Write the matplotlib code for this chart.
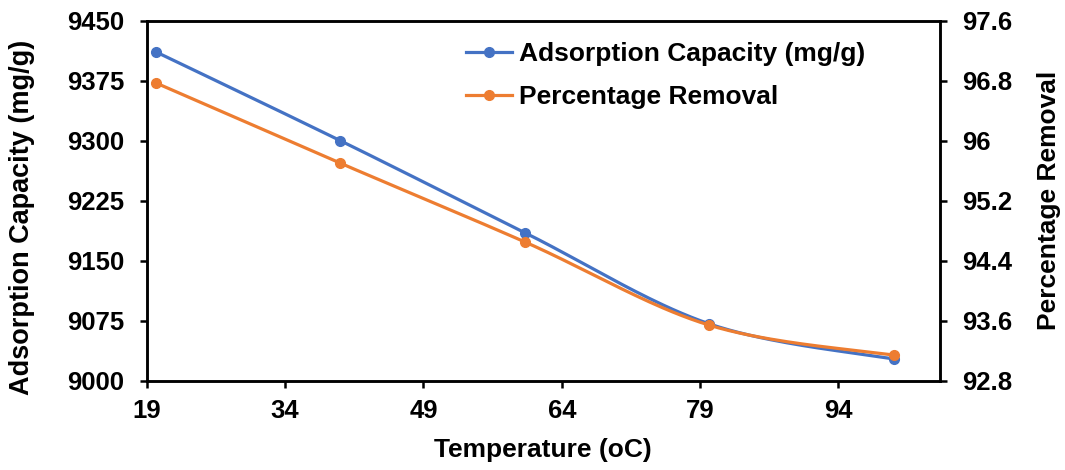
import numpy as np
import matplotlib
matplotlib.use("Agg")
import matplotlib.pyplot as plt

plt.rcParams['font.family'] = ['Liberation Sans', 'DejaVu Sans']
plt.rcParams['font.weight'] = 'bold'

# Temperature series
temperature = [20, 40, 60, 80, 100]
adsorption_capacity = [9411, 9300, 9185, 9071, 9027]      # mg/g
percentage_removal = [96.77, 95.70, 94.65, 93.54, 93.14]  # %

x_ticks = [19, 34, 49, 64, 79, 94]
left_ticks = [9000, 9075, 9150, 9225, 9300, 9375, 9450]
right_ticks = [92.8, 93.6, 94.4, 95.2, 96, 96.8, 97.6]

BLUE = '#4472C4'
ORANGE = '#ED7D31'
STEPS = 40


def smooth(xs, ys, steps=STEPS):
    # spreadsheet-style smoothed line: cubic Bezier through every point
    p = np.column_stack([xs, ys]).astype(float)
    n = len(p)
    out = []
    for i in range(n - 1):
        p0 = p[max(i - 1, 0)]
        p1 = p[i]
        p2 = p[i + 1]
        p3 = p[min(i + 2, n - 1)]
        c1 = p1 + (p2 - p0) / 6.0
        c2 = p2 - (p3 - p1) / 6.0
        t = np.linspace(0, 1, steps, endpoint=False)[:, None]
        seg = ((1 - t) ** 3) * p1 + 3 * ((1 - t) ** 2) * t * c1 + 3 * (1 - t) * t ** 2 * c2 + t ** 3 * p2
        out.append(seg)
    out.append(p[-1:])
    curve = np.vstack(out)
    return curve[:, 0], curve[:, 1]


fig = plt.figure(figsize=(10.65, 4.7), dpi=100)
ax = fig.add_axes([0.1377, 0.19, 0.8826 - 0.1377, 0.956 - 0.19])
ax2 = ax.twinx()

marks = list(range(0, STEPS * (len(temperature) - 1) + 1, STEPS))

sx, sy = smooth(temperature, adsorption_capacity)
l1, = ax.plot(sx, sy, color=BLUE, lw=2.3, marker='o', ms=7,
              markevery=marks, label='Adsorption Capacity (mg/g)')

sx, sy = smooth(temperature, percentage_removal)
l2, = ax2.plot(sx, sy, color=ORANGE, lw=2.3, marker='o', ms=7,
               markevery=marks, label='Percentage Removal')

ax.set_xlim(19, 105)
ax.set_ylim(9000, 9450)
ax2.set_ylim(92.8, 97.6)
ax.set_xticks(x_ticks)
ax.set_yticks(left_ticks)
ax2.set_yticks(right_ticks)
ax2.set_yticklabels([f'{v:g}' for v in right_ticks])

for a in (ax, ax2):
    for sp in a.spines.values():
        sp.set_linewidth(1.8)
    a.tick_params(width=1.8, length=5, labelsize=18.5, direction='out', pad=11)
ax.tick_params(axis='x', pad=8)

ax.set_xlabel('Temperature (oC)', fontsize=19, fontweight='bold', labelpad=11)
ax.set_ylabel('Adsorption Capacity (mg/g)', fontsize=19.5, fontweight='bold', labelpad=23)
ax.yaxis.label.set_y(0.455)
ax2.set_ylabel('Percentage Removal', fontsize=19, fontweight='bold', labelpad=18)

ax2.legend(handles=[l1, l2], loc='upper left', bbox_to_anchor=(0.375, 1.0),
           frameon=False, fontsize=19, handlelength=1.75, handletextpad=0.25,
           labelspacing=0.72, borderaxespad=0.42)

fig.savefig('out.png', dpi=100)
